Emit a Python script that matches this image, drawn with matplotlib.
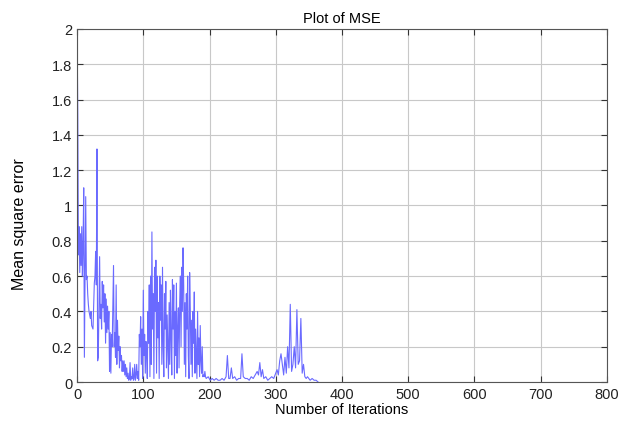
import matplotlib
matplotlib.use('Agg')
import matplotlib.pyplot as plt

plt.rcParams['font.family'] = ['Liberation Sans', 'DejaVu Sans']

# MSE values (iteration, value)
iterations = list(range(0, 195)) + [
    195, 198, 201, 204, 207, 210, 213, 216, 219, 222, 225, 227, 229, 231, 233,
    235, 238, 241, 244, 247, 249, 251, 254, 257, 260, 263, 266, 269, 272, 274,
    276, 278, 280, 282, 285, 288, 291, 294, 297, 300, 302, 304, 306, 308, 310,
    312, 314, 316, 318, 320, 322, 324, 326, 328, 330, 332, 334, 336, 338, 340,
    342, 344, 346, 348, 350, 352, 355, 358, 361, 364]

mse = [
    # 0-24
    2.0, 1.52, 0.72, 0.88, 0.62, 0.84, 0.66, 0.88, 0.6, 0.78,
    1.1, 0.14, 0.62, 1.05, 0.58, 0.6, 0.5, 0.44, 0.4, 0.38,
    0.36, 0.4, 0.32, 0.31, 0.3,
    # 25-69
    0.42, 0.56, 0.6, 0.74, 0.55, 1.32, 0.12, 0.14, 0.45, 0.71,
    0.36, 0.44, 0.3, 0.57, 0.42, 0.55, 0.34, 0.5, 0.22, 0.47,
    0.28, 0.43, 0.3, 0.4, 0.06, 0.28, 0.05, 0.27, 0.2, 0.45,
    0.66, 0.2, 0.28, 0.14, 0.55, 0.1, 0.35, 0.18, 0.26, 0.08,
    0.2, 0.12, 0.15, 0.06, 0.12,
    # 70-94
    0.06, 0.12, 0.04, 0.1, 0.03, 0.08, 0.02, 0.05, 0.01, 0.02,
    0.11, 0.01, 0.03, 0.02, 0.08, 0.01, 0.02, 0.1, 0.01, 0.04,
    0.1, 0.02, 0.06, 0.01, 0.27,
    # 95-194
    0.2, 0.37, 0.1, 0.3, 0.02, 0.52, 0.15, 0.27, 0.05, 0.23,
    0.18, 0.02, 0.4, 0.22, 0.55, 0.03, 0.6, 0.1, 0.85, 0.3,
    0.5, 0.02, 0.65, 0.4, 0.69, 0.05, 0.6, 0.25, 0.45, 0.02,
    0.6, 0.35, 0.55, 0.1, 0.65, 0.2, 0.03, 0.5, 0.3, 0.57,
    0.08, 0.38, 0.2, 0.02, 0.45, 0.1, 0.52, 0.25, 0.04, 0.58,
    0.3, 0.55, 0.02, 0.4, 0.15, 0.56, 0.05, 0.3, 0.42, 0.08,
    0.45, 0.6, 0.2, 0.65, 0.4, 0.76, 0.55, 0.1, 0.45, 0.03,
    0.5, 0.3, 0.6, 0.15, 0.02, 0.62, 0.4, 0.1, 0.35, 0.03,
    0.4, 0.22, 0.51, 0.05, 0.3, 0.15, 0.02, 0.4, 0.1, 0.25,
    0.03, 0.32, 0.12, 0.05, 0.2, 0.03, 0.04, 0.03, 0.06, 0.03,
    # 195-364
    0.02, 0.03, 0.01, 0.02, 0.01, 0.02, 0.01, 0.01, 0.02, 0.01,
    0.03, 0.15, 0.02, 0.02, 0.08, 0.02, 0.03, 0.01, 0.02, 0.02,
    0.16, 0.03, 0.02, 0.02, 0.01, 0.03, 0.02, 0.04, 0.06, 0.04,
    0.11, 0.03, 0.07, 0.02, 0.03, 0.01, 0.02, 0.03, 0.02, 0.05,
    0.07, 0.04, 0.12, 0.16, 0.1, 0.04, 0.14, 0.05, 0.2, 0.08,
    0.44, 0.06, 0.1, 0.2, 0.08, 0.41, 0.1, 0.12, 0.36, 0.05,
    0.1, 0.03, 0.02, 0.03, 0.02, 0.01, 0.02, 0.01, 0.01, 0.0]

x_ticks = [0, 100, 200, 300, 400, 500, 600, 700, 800]
y_ticks = [0, 0.2, 0.4, 0.6, 0.8, 1.0, 1.2, 1.4, 1.6, 1.8, 2.0]
y_labels = ['0', '0.2', '0.4', '0.6', '0.8', '1', '1.2', '1.4', '1.6', '1.8', '2']

fig = plt.figure(figsize=(6.32, 4.27), dpi=100)
ax = fig.add_axes([0.122, 0.103, 0.838, 0.827])

ax.plot(iterations, mse, color='#6a6aff', linewidth=0.8)

ax.set_xlim(0, 800)
ax.set_ylim(0, 2)
ax.set_xticks(x_ticks)
ax.set_yticks(y_ticks)
ax.set_yticklabels(y_labels)
ax.grid(True, color='#c8c8c8', linewidth=0.8)
ax.set_axisbelow(True)
ax.tick_params(direction='in', length=4, labelsize=10.5, colors='#333333',
               labelcolor='#222222', top=True, right=True)
for s in ax.spines.values():
    s.set_color('#555555')
    s.set_linewidth(0.8)

ax.set_title('Plot of MSE', fontsize=10.5, pad=5)
ax.set_xlabel('Number of Iterations', fontsize=10.5, labelpad=1)
ax.set_ylabel('Mean square error', fontsize=11.5)
ax.yaxis.set_label_coords(-0.094, 0.45)

fig.savefig('out.png', dpi=100)
